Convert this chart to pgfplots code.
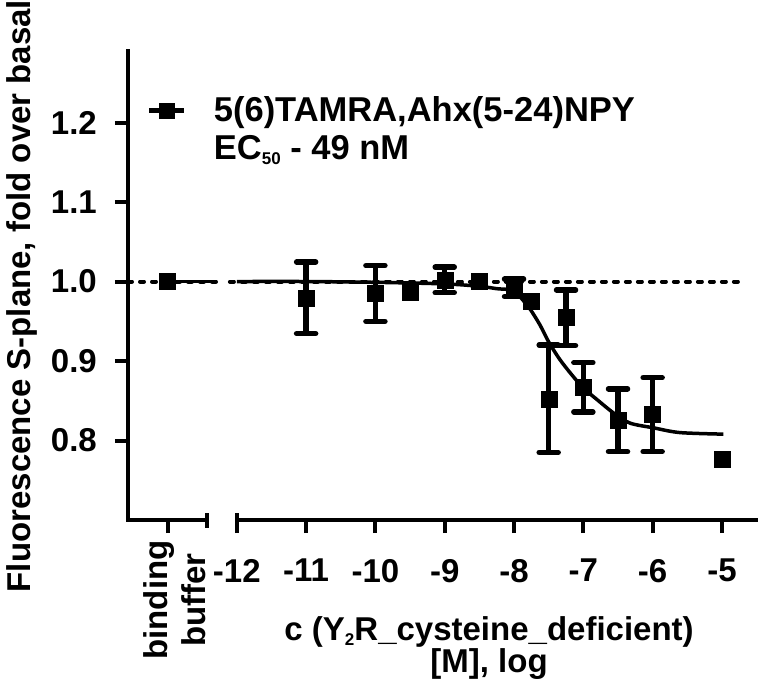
\documentclass[border=0pt]{standalone}
\usepackage{pgfplots}
\pgfplotsset{compat=1.18}
\usepackage{fontspec}
\setmainfont{Liberation Sans}
\newcommand\F{\fontsize{33}{38}\selectfont\bfseries}
\newcommand\Lg{\fontsize{34.5}{38}\selectfont\bfseries}
\newcommand\sub[1]{\raisebox{-5pt}{\fontsize{17}{17}\selectfont #1}}
\begin{document}
\begin{tikzpicture}
\path[use as bounding box] (0pt,0pt) rectangle (765pt,683pt);
\begin{axis}[
  at={(128pt,163pt)}, anchor=south west,
  scale only axis, width=630pt, height=469pt,
  xmin=-13.57, xmax=-4.48, ymin=0.70, ymax=1.29,
  axis lines*=left,
  every outer x axis line/.append style={draw=none},
  every outer y axis line/.append style={line width=4.5pt, line cap=rect},
  tick align=outside,
  major tick length=13pt,
  tick style={line width=4pt, black},
  xtick={-13,-12,-11,-10,-9,-8,-7,-6,-5},
  xticklabels={,-12,-11,-10,-9,-8,-7,-6,-5},
  ytick={0.8,0.9,1.0,1.1,1.2},
  yticklabels={0.8,0.9,1.0,1.1,1.2},
  ticklabel style={font=\F, inner sep=0pt},
  xticklabel style={anchor=north, yshift=-26pt},
  yticklabel style={anchor=east, xshift=-18pt},
  clip=false,
  legend style={at={(0.030,0.910)}, anchor=north west, draw=none, fill=none,
    inner sep=0pt, outer sep=0pt, font=\Lg, column sep=25pt,
    cells={anchor=base west}},
  legend image code/.code={
    \draw[black, line width=5pt] (0pt,11.5pt) -- (35pt,11.5pt);
    \draw[black, mark=square*, mark size=7.5pt] plot coordinates {(17.5pt,11.5pt)};
  },
]
% dashed reference line at 1.0 (broken at the axis break)
\addplot[black, line width=4pt, dash pattern=on 4pt off 8pt, line cap=round, forget plot]
  coordinates {(-13.57,1.0) (-12.29,1.0)};
\addplot[black, line width=4pt, dash pattern=on 4pt off 8pt, line cap=round, forget plot]
  coordinates {(-12.10,1.0) (-4.75,1.0)};
% short line at buffer level
\addplot[black, line width=3pt, forget plot] coordinates {(-13.0,1.0) (-12.29,1.0)};
% fitted curve
\addplot[black, line width=3.5pt, smooth, forget plot] coordinates {
  (-12,1.000) (-11,1.000) (-10,0.999) (-9,0.997) (-8.5,0.994) (-8.25,0.991)
  (-8.01,0.988) (-7.80,0.969) (-7.63,0.946) (-7.50,0.924) (-7.34,0.902)
  (-7.17,0.883) (-7.00,0.866) (-6.81,0.852) (-6.57,0.835) (-6.33,0.822)
  (-5.99,0.816) (-5.61,0.810) (-4.98,0.808)
};
% points without visible error bars
\addplot[black, only marks, mark=square*, mark size=8pt, forget plot]
  table[x=x, y=y] {
x y
-13 1.000
-9.5 0.987
-8.5 1.000
-7.75 0.975
-5 0.777
};
% points with error bars
\addplot[black, only marks, mark=square*, mark size=8pt,
  error bars/.cd, y dir=both, y explicit,
  error bar style={line width=5.5pt},
  error mark options={rotate=90, line width=5.5pt, mark size=9.5pt, line cap=round}]
  table[x=x, y=y, y error=e] {
x y e
-11 0.9795 0.045
-10 0.985 0.035
-9 1.002 0.016
-8 0.992 0.011
-7.5 0.8525 0.0675
-7.25 0.9545 0.035
-7 0.867 0.031
-6.5 0.8255 0.0395
-6 0.8325 0.0465
};
\addlegendentry{\begin{tabular}[t]{@{}l@{}}5(6)TAMRA,Ahx(5-24)NPY\\EC\sub{50} - 49 nM\end{tabular}}
% broken x axis
\draw[black, line width=4.5pt] (axis cs:-13.57,0.70) -- (axis cs:-12.43,0.70);
\draw[black, line width=4.5pt] (axis cs:-12,0.70) -- (axis cs:-4.48,0.70);
\draw[black, line width=4pt] ([yshift=7pt]axis cs:-12.43,0.70) -- ([yshift=-8pt]axis cs:-12.43,0.70);
\draw[black, line width=4pt] ([yshift=7pt]axis cs:-12,0.70) -- ([yshift=-2pt]axis cs:-12,0.70);
% labels
\node[rotate=90, align=center, font=\F] at ([xshift=7pt,yshift=-80pt]axis cs:-13,0.70) {binding\\buffer};
\node[font=\fontsize{33}{32}\selectfont\bfseries, align=center, anchor=north, inner sep=0pt]
  at ([yshift=-96pt]axis cs:-8.36,0.70) {c (Y\sub{2}R\_cysteine\_deficient)\\{}[M], log};
\end{axis}
\node[rotate=90, font=\F, anchor=base] at (31pt,387pt) {Fluorescence S-plane, fold over basal};
\end{tikzpicture}
\end{document}
